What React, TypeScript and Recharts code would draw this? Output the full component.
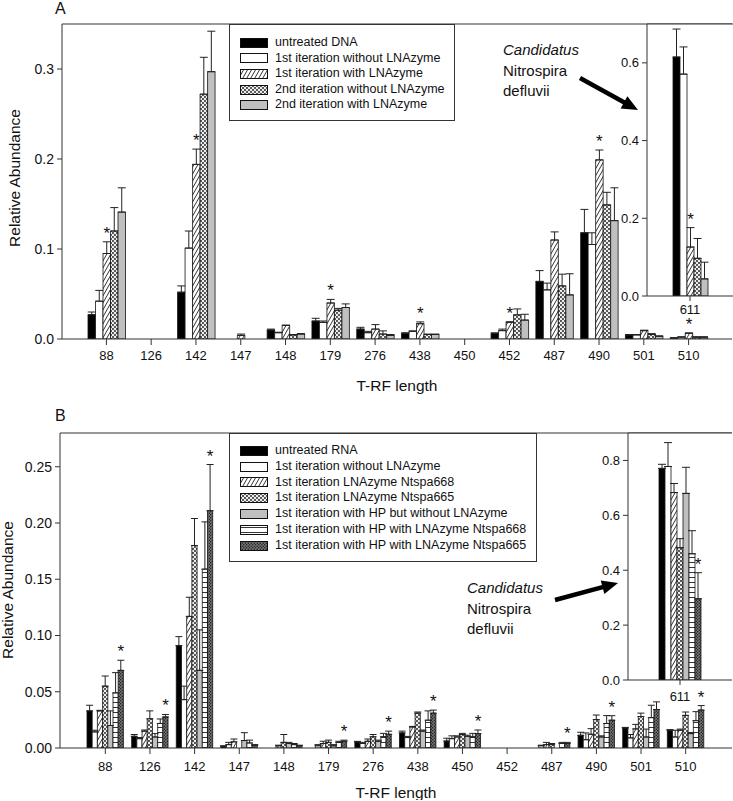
import React from 'react';
import { BarChart, Bar, XAxis, YAxis, ErrorBar, Legend, CartesianGrid, ReferenceLine, Rectangle } from 'recharts';

const FONT = '"Liberation Sans", Arial, Helvetica, sans-serif';
const AXIS = '#333';

// ---------- panel A (DNA) ----------
const catsA = ['88', '126', '142', '147', '148', '179', '276', '438', '450', '452', '487', '490', '501', '510'];
const namesA = [
  'untreated DNA',
  '1st iteration without LNAzyme',
  '1st iteration with LNAzyme',
  '2nd iteration without LNAzyme',
  '2nd iteration with LNAzyme',
];
const untreatedA = [0.027, null, 0.052, null, 0.010, 0.020, 0.011, 0.0063, null, 0.0063, 0.064, 0.118, 0.0045, 0.001];
const untreatedErrA = [0.003, null, 0.007, null, 0.001, 0.003, 0.002, 0.0006, null, 0.0005, 0.012, 0.026, 0.0005, 0.0005];
const firstNoA = [0.042, null, 0.101, null, 0.007, 0.0185, 0.007, 0.0085, null, 0.0093, 0.0546, 0.105, 0.0045, 0.002];
const firstNoErrA = [0.012, null, 0.019, null, 0.0005, 0.0015, 0.0015, 0.0005, null, 0.0017, 0.0075, 0.013, 0.0005, 0.0005];
const firstLnaA = [0.095, null, 0.194, 0.004, 0.015, 0.040, 0.011, 0.017, null, 0.0186, 0.110, 0.199, 0.0093, 0.0063];
const firstLnaErrA = [0.013, null, 0.017, 0.0015, 0.0005, 0.004, 0.005, 0.002, null, 0.0005, 0.009, 0.011, 0.0005, 0.0005];
const secondNoA = [0.120, null, 0.272, null, 0.0045, 0.032, 0.0055, 0.005, null, 0.0268, 0.059, 0.149, 0.005, 0.002];
const secondNoErrA = [0.026, null, 0.041, null, 0.0005, 0.002, 0.0035, 0.0005, null, 0.0066, 0.013, 0.014, 0.001, 0.0005];
const secondLnaA = [0.141, null, 0.297, null, 0.0055, 0.035, 0.004, 0.005, null, 0.021, 0.049, 0.1315, 0.003, 0.002];
const secondLnaErrA = [0.027, null, 0.045, null, 0.0005, 0.004, 0.001, 0.0005, null, 0.0065, 0.0235, 0.0365, 0.0005, 0.0005];
const starsA = ['88', '142', '179', '438', '452', '490', '510'];

const insetCat = ['611'];
const insetValsA = [0.615, 0.571, 0.126, 0.097, 0.044];
const insetErrsA = [0.072, 0.070, 0.050, 0.051, 0.043];

// ---------- panel B (RNA) ----------
const catsB = ['88', '126', '142', '147', '148', '179', '276', '438', '450', '452', '487', '490', '501', '510'];
const namesB = [
  'untreated RNA',
  '1st iteration without LNAzyme',
  '1st iteration LNAzyme Ntspa668',
  '1st iteration LNAzyme Ntspa665',
  '1st iteration with HP but without LNAzyme',
  '1st iteration with HP with LNAzyme Ntspa668',
  '1st iteration with HP with LNAzyme Ntspa665',
];
const untreatedB = [0.033, 0.0104, 0.091, 0.0015, null, null, 0.0054, 0.0134, 0.0062, null, null, 0.0113, 0.0178, 0.0158];
const untreatedErrB = [0.005, 0.0016, 0.008, 0.0005, null, null, 0.0005, 0.0016, 0.0025, null, null, 0.0027, 0.0005, 0.0005];
const noLnaB = [0.0143, 0.0083, 0.043, 0.003, null, 0.002, 0.004, 0.0093, 0.0083, null, 0.002, 0.0074, 0.009, 0.0098];
const noLnaErrB = [0.0015, 0.001, 0.012, 0.002, null, 0.001, 0.001, 0.001, 0.0025, null, 0.0005, 0.006, 0.003, 0.006];
const lna668B = [0.033, 0.015, 0.117, 0.0055, 0.002, 0.004, 0.006, 0.0187, 0.0098, null, 0.003, 0.0122, 0.017, 0.0158];
const lna668ErrB = [0.0005, 0.001, 0.017, 0.0025, 0.0005, 0.002, 0.002, 0.0005, 0.001, null, 0.002, 0.005, 0.004, 0.001];
const lna665B = [0.055, 0.026, 0.180, null, 0.005, 0.005, 0.010, 0.031, 0.012, null, 0.003, 0.0253, 0.028, 0.029];
const lna665ErrB = [0.009, 0.007, 0.024, null, 0.007, 0.002, 0.002, 0.001, 0.001, null, 0.001, 0.004, 0.003, 0.003];
const hpNoB = [0.020, 0.0098, 0.069, 0.0066, 0.004, 0.002, 0.006, 0.015, 0.0104, null, null, 0.0098, 0.0098, 0.0128];
const hpNoErrB = [0.013, 0.003, 0.036, 0.007, 0.001, 0.001, 0.001, 0.001, 0.001, null, null, 0.001, 0.007, 0.001];
const hp668B = [0.049, 0.0218, 0.159, 0.0045, 0.003, 0.005, 0.010, 0.0247, 0.010, null, 0.004, 0.0218, 0.027, 0.0243];
const hp668ErrB = [0.018, 0.004, 0.042, 0.0025, 0.001, 0.001, 0.003, 0.0083, 0.003, null, 0.001, 0.007, 0.011, 0.008];
const hp665B = [0.069, 0.0276, 0.211, 0.0024, 0.002, 0.006, 0.0122, 0.031, 0.0128, null, 0.004, 0.0247, 0.0342, 0.0337];
const hp665ErrB = [0.009, 0.0022, 0.041, 0.0006, 0.0005, 0.001, 0.0028, 0.0027, 0.0032, null, 0.001, 0.004, 0.0068, 0.004];
const starsB = ['88', '126', '142', '179', '276', '438', '450', '487', '490', '510'];

const insetValsB = [0.771, 0.778, 0.683, 0.482, 0.680, 0.460, 0.296];
const insetErrsB = [0.015, 0.087, 0.033, 0.033, 0.095, 0.084, 0.095];

const fillsA = ['#000', '#fff', 'url(#hatch)', 'url(#dots)', '#c0c0c0'];
const fillsB = ['#000', '#fff', 'url(#hatch)', 'url(#dots)', '#c0c0c0', 'url(#hlines)', 'url(#dark)'];

type V = number | null;

const buildRows = (cats: string[], vals: V[][], errs: V[][]) =>
  cats.map((cat, i) => {
    const row: Record<string, any> = { cat };
    vals.forEach((v, k) => {
      row[`s${k}`] = v[i];
      row[`e${k}`] = v[i] == null || errs[k][i] == null ? undefined : [0, errs[k][i]];
    });
    return row;
  });

const rowsA = buildRows(
  catsA,
  [untreatedA, firstNoA, firstLnaA, secondNoA, secondLnaA],
  [untreatedErrA, firstNoErrA, firstLnaErrA, secondNoErrA, secondLnaErrA],
);
const rowsB = buildRows(
  catsB,
  [untreatedB, noLnaB, lna668B, lna665B, hpNoB, hp668B, hp665B],
  [untreatedErrB, noLnaErrB, lna668ErrB, lna665ErrB, hpNoErrB, hp668ErrB, hp665ErrB],
);
const insetRowsA = buildRows(insetCat, insetValsA.map((v) => [v]), insetErrsA.map((e) => [e]));
const insetRowsB = buildRows(insetCat, insetValsB.map((v) => [v]), insetErrsB.map((e) => [e]));

// bar with black outline, plus a star above the error bar when flagged
const barShape = (k: number, stars: string[], starSeries: number) => (p: any) => {
  const v = p.payload[`s${k}`];
  const e = p.payload[`e${k}`];
  const star = k === starSeries && stars.includes(p.payload.cat) && v;
  const sy = star ? p.y - (e ? e[1] : 0) * (p.height / v) - 3 : 0;
  return (
    <g>
      <Rectangle x={p.x} y={p.y} width={p.width} height={p.height} fill={p.fill} stroke="#111" strokeWidth={0.8} />
      {star ? (
        <text x={p.x + p.width / 2} y={sy} textAnchor="middle" fontSize={17} fontFamily={FONT} fill="#111">
          *
        </text>
      ) : null}
    </g>
  );
};

const LegendBox = ({ names, fills, w, h, pt, rowH }: any) => (
  <div
    style={{
      width: w,
      height: h,
      boxSizing: 'border-box',
      border: '1px solid #333',
      background: '#fff',
      paddingTop: pt,
      paddingLeft: 10,
      fontFamily: FONT,
      fontSize: 12.5,
      color: '#111',
    }}
  >
    {names.map((n: string, k: number) => (
      <div key={n} style={{ display: 'flex', alignItems: 'center', height: rowH }}>
        <svg width={28} height={10} style={{ marginRight: 7, flex: 'none' }}>
          <rect x={0.5} y={0.5} width={27} height={9} fill={fills[k]} stroke="#111" strokeWidth={1} />
        </svg>
        <span style={{ whiteSpace: 'nowrap', lineHeight: `${rowH}px` }}>{n}</span>
      </div>
    ))}
  </div>
);

function MainChart(props: any) {
  const { rows, names, fills, stars, starSeries, top, height, plotTop, xHeight, yWidth, yMax, yTicks, digits,
    padL, padR, barSize, cap, tickMargin, titleY, yLabelX, yLabelY, legend } = props;
  const yTitle = () => (
    <text
      transform={`translate(${yLabelX},${yLabelY}) rotate(-90)`}
      textAnchor="middle"
      dominantBaseline="central"
      fontSize={15.5}
      fontFamily={FONT}
      fill="#111"
    >
      Relative Abundance
    </text>
  );
  const xTitle = () => (
    <text x={(yWidth + 732) / 2} y={titleY} textAnchor="middle" fontSize={15.5} fontFamily={FONT} fill="#111">
      T-RF length
    </text>
  );
  return (
    <div style={{ position: 'absolute', left: 0, top, width: 733, height }}>
      <BarChart width={733} height={height} data={rows} margin={{ top: plotTop, right: 1, left: 0, bottom: 0 }} barGap={0} barSize={barSize}>
        <XAxis
          dataKey="cat"
          interval={0}
          padding={{ left: padL, right: padR }}
          height={xHeight}
          tickSize={6}
          tickMargin={tickMargin}
          tick={{ fontSize: 13, fill: '#111', fontFamily: FONT }}
          axisLine={{ stroke: AXIS }}
          tickLine={{ stroke: AXIS }}
          label={{ content: xTitle }}
        />
        <YAxis
          width={yWidth}
          domain={[0, yMax]}
          ticks={yTicks}
          allowDataOverflow
          tickFormatter={(v: number) => v.toFixed(digits)}
          tickSize={5}
          tickMargin={3}
          tick={{ fontSize: 14, fill: '#111', fontFamily: FONT }}
          axisLine={{ stroke: AXIS }}
          tickLine={{ stroke: AXIS }}
          label={{ content: yTitle }}
        />
        <ReferenceLine y={yMax} stroke={AXIS} />
        <Legend
          layout="vertical"
          align="center"
          verticalAlign="middle"
          wrapperStyle={{ left: legend.x, top: legend.y, width: legend.w, height: legend.h }}
          content={() => <LegendBox names={names} fills={fills} w={legend.w} h={legend.h} pt={legend.pt} rowH={legend.rowH} />}
        />
        {names.map((n: string, k: number) => (
          <Bar key={n} dataKey={`s${k}`} name={n} fill={fills[k]} isAnimationActive={false} shape={barShape(k, stars, starSeries)}>
            <ErrorBar dataKey={`e${k}`} width={cap} stroke="#222" strokeWidth={1} direction="y" />
          </Bar>
        ))}
      </BarChart>
    </div>
  );
}

function InsetChart(props: any) {
  const { rows, names, fills, starSeries, left, top, width, height, plotTop, xHeight, yWidth, yMax, yTicks, barSize, tickMargin } = props;
  return (
    <div style={{ position: 'absolute', left, top, width, height }}>
      <BarChart width={width} height={height} data={rows} margin={{ top: plotTop, right: 0, left: 0, bottom: 0 }} barGap={0} barSize={barSize}>
        <CartesianGrid fill="#fff" horizontal={false} vertical={false} />
        <XAxis
          dataKey="cat"
          height={xHeight}
          tickSize={5}
          tickMargin={tickMargin}
          tick={{ fontSize: 13, fill: '#111', fontFamily: FONT }}
          axisLine={{ stroke: AXIS }}
          tickLine={{ stroke: AXIS }}
        />
        <YAxis
          width={yWidth}
          domain={[0, yMax]}
          ticks={yTicks}
          allowDataOverflow
          tickFormatter={(v: number) => v.toFixed(1)}
          tickSize={5}
          tickMargin={3}
          tick={{ fontSize: 13, fill: '#111', fontFamily: FONT }}
          axisLine={{ stroke: AXIS }}
          tickLine={{ stroke: AXIS }}
        />
        <ReferenceLine y={yMax} stroke={AXIS} />
        {names.map((n: string, k: number) => (
          <Bar key={n} dataKey={`s${k}`} name={n} fill={fills[k]} isAnimationActive={false} shape={barShape(k, insetCat, starSeries)}>
            <ErrorBar dataKey={`e${k}`} width={4} stroke="#222" strokeWidth={1} direction="y" />
          </Bar>
        ))}
      </BarChart>
    </div>
  );
}

const arrow = (x1: number, y1: number, x2: number, y2: number) => {
  const dx = x2 - x1;
  const dy = y2 - y1;
  const len = Math.hypot(dx, dy);
  const ux = dx / len;
  const uy = dy / len;
  const bx = x2 - ux * 16;
  const by = y2 - uy * 16;
  const head = `${x2},${y2} ${bx - uy * 7},${by + ux * 7} ${bx + uy * 7},${by - ux * 7}`;
  return (
    <g>
      <line x1={x1} y1={y1} x2={bx + ux * 2} y2={by + uy * 2} stroke="#000" strokeWidth={4.5} />
      <polygon points={head} fill="#000" />
    </g>
  );
};

const Species = ({ x, y }: { x: number; y: number }) => (
  <g fontFamily={FONT} fontSize={15} fill="#111">
    <text x={x} y={y} fontStyle="italic">Candidatus</text>
    <text x={x} y={y + 21}>Nitrospira</text>
    <text x={x} y={y + 41}>defluvii</text>
  </g>
);

export default function App() {
  return (
    <div style={{ position: 'absolute', left: 0, top: 0, width: 733, height: 801, background: '#fff', overflow: 'hidden' }}>
      <svg width={0} height={0} style={{ position: 'absolute' }}>
        <defs>
          <pattern id="hatch" width={4} height={7} patternUnits="userSpaceOnUse">
            <rect width={4} height={7} fill="#fff" />
            <path d="M0,7 L4,0 M-1,1.75 L1,-1.75 M3,8.75 L5,5.25" stroke="#000" strokeWidth={0.8} />
          </pattern>
          <pattern id="dots" width={4} height={4} patternUnits="userSpaceOnUse">
            <rect width={4} height={4} fill="#eee" />
            <circle cx={1} cy={1} r={0.9} fill="#111" />
            <circle cx={3} cy={3} r={0.9} fill="#111" />
          </pattern>
          <pattern id="hlines" width={4} height={5} patternUnits="userSpaceOnUse">
            <rect width={4} height={5} fill="#fff" />
            <line x1={0} y1={2.5} x2={4} y2={2.5} stroke="#000" strokeWidth={0.8} />
          </pattern>
          <pattern id="dark" width={3} height={3} patternUnits="userSpaceOnUse">
            <rect width={3} height={3} fill="#777" />
            <circle cx={0.75} cy={0.75} r={0.7} fill="#111" />
            <circle cx={2.25} cy={2.25} r={0.7} fill="#111" />
          </pattern>
        </defs>
      </svg>

      <MainChart
        rows={rowsA}
        names={namesA}
        fills={fillsA}
        stars={starsA}
        starSeries={2}
        top={0}
        height={397}
        plotTop={24}
        xHeight={58}
        yWidth={62}
        yMax={0.35}
        yTicks={[0, 0.1, 0.2, 0.3]}
        digits={1}
        padL={22}
        padR={21}
        barSize={7.5}
        cap={4}
        tickMargin={5.5}
        titleY={391}
        yLabelX={14}
        yLabelY={178}
        legend={{ x: 229, y: 24, w: 226, h: 97, pt: 10, rowH: 15.6 }}
      />
      <InsetChart
        rows={insetRowsA}
        names={namesA}
        fills={fillsA}
        starSeries={2}
        left={600}
        top={0}
        width={133}
        height={326}
        plotTop={24}
        xHeight={30}
        yWidth={47}
        yMax={0.7}
        yTicks={[0, 0.2, 0.4, 0.6]}
        barSize={7}
        tickMargin={4}
      />

      <MainChart
        rows={rowsB}
        names={namesB}
        fills={fillsB}
        stars={starsB}
        starSeries={6}
        top={400}
        height={400}
        plotTop={33}
        xHeight={52}
        yWidth={60}
        yMax={0.28}
        yTicks={[0, 0.05, 0.1, 0.15, 0.2, 0.25]}
        digits={2}
        padL={23}
        padR={24}
        barSize={5.2}
        cap={3.5}
        tickMargin={7.5}
        titleY={398}
        yLabelX={7}
        yLabelY={190}
        legend={{ x: 229, y: 33, w: 308, h: 129, pt: 9, rowH: 15.8 }}
      />
      <InsetChart
        rows={insetRowsB}
        names={namesB}
        fills={fillsB}
        starSeries={6}
        left={580}
        top={400}
        width={152}
        height={314}
        plotTop={33}
        xHeight={34}
        yWidth={48}
        yMax={0.9}
        yTicks={[0, 0.2, 0.4, 0.6, 0.8]}
        barSize={6}
        tickMargin={7}
      />

      <svg width={733} height={801} style={{ position: 'absolute', left: 0, top: 0, pointerEvents: 'none' }}>
        <text x={55} y={14} fontSize={16} fontFamily={FONT} fill="#111">A</text>
        <text x={55} y={421} fontSize={16} fontFamily={FONT} fill="#111">B</text>
        <Species x={503} y={55} />
        {arrow(580, 78, 638, 110)}
        <Species x={467} y={593} />
        {arrow(555, 600, 618, 583)}
      </svg>
    </div>
  );
}
